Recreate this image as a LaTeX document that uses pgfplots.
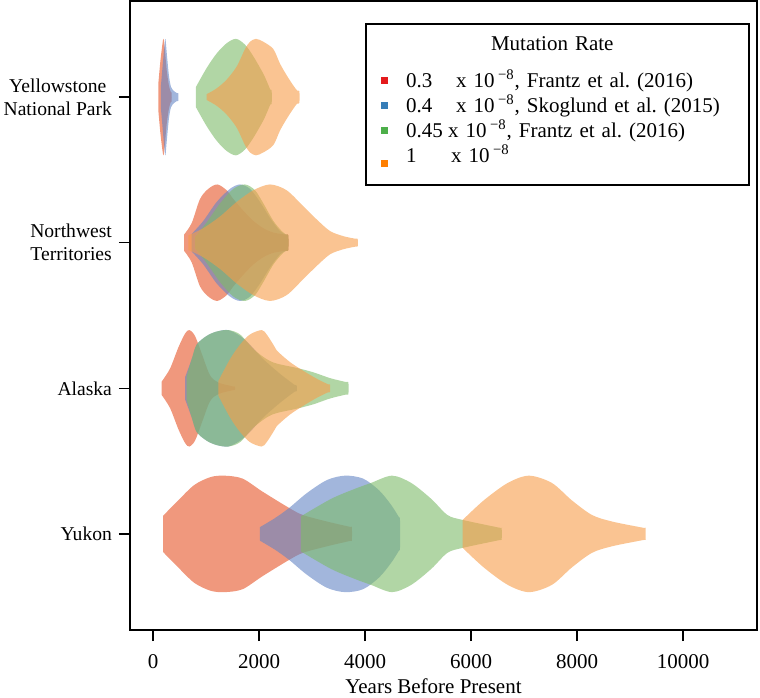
\documentclass[border=0pt]{standalone}
\usepackage{fontspec}
\setmainfont{Liberation Serif}
\usepackage{pgfplots}
\usepackage{pgfplotstable}
\pgfplotsset{compat=1.18}
\usetikzlibrary{calc}
\definecolor{vred}{RGB}{230,83,38}
\definecolor{vblue}{RGB}{100,133,197}
\definecolor{vgreen}{RGB}{125,187,105}
\definecolor{vorange}{RGB}{247,157,73}
\definecolor{lred}{HTML}{E41A1C}
\definecolor{lblue}{HTML}{377EB8}
\definecolor{lgreen}{HTML}{4DAF4A}
\definecolor{lorange}{HTML}{FF7F00}

% Yukon
\pgfplotstableread{
x w
189 0.124
475 0.23
779 0.336
1083 0.39
1348 0.40
1689 0.38
2068 0.29
2561 0.18
2827 0.13
3282 0.085
3710 0.049
3751 0.046
3751 -0.046
3710 -0.049
3282 -0.085
2827 -0.13
2561 -0.18
2068 -0.29
1689 -0.38
1348 -0.40
1083 -0.39
779 -0.336
475 -0.23
189 -0.124
}\yukonred
\pgfplotstableread{
x w
2015 0.046
2295 0.107
2561 0.176
2902 0.28
3282 0.37
3623 0.40
3963 0.38
4264 0.30
4491 0.20
4640 0.115
4660 0.096
4660 -0.096
4640 -0.115
4491 -0.20
4264 -0.30
3963 -0.38
3623 -0.40
3282 -0.37
2902 -0.28
2561 -0.176
2295 -0.107
2015 -0.046
}\yukonblue
\pgfplotstableread{
x w
2789 0.12
3357 0.24
3812 0.31
4113 0.35
4509 0.40
4872 0.35
5251 0.24
5555 0.13
5843 0.096
6530 0.043
6577 0.040
6577 -0.040
6530 -0.043
5843 -0.096
5555 -0.13
5251 -0.24
4872 -0.35
4509 -0.40
4113 -0.35
3812 -0.31
3357 -0.24
2789 -0.12
}\yukongreen
\pgfplotstableread{
x w
5843 0.096
6239 0.23
6693 0.35
7094 0.40
7526 0.35
7904 0.23
8283 0.13
8662 0.085
9250 0.042
9292 0.040
9292 -0.040
9250 -0.042
8662 -0.085
8283 -0.13
7904 -0.23
7526 -0.35
7094 -0.40
6693 -0.35
6239 -0.23
5843 -0.096
}\yukonorange

% Alaska
\pgfplotstableread{
x w
164 0.046
321 0.135
478 0.28
604 0.375
685 0.40
792 0.36
918 0.24
1075 0.09
1233 0.04
1500 0.014
1547 0.012
1547 -0.012
1500 -0.014
1233 -0.04
1075 -0.09
918 -0.24
792 -0.36
685 -0.40
604 -0.375
478 -0.28
321 -0.135
164 -0.046
}\alaskared
\pgfplotstableread{
x w
604 0.075
730 0.20
824 0.30
1013 0.36
1202 0.39
1421 0.40
1642 0.36
1830 0.30
2082 0.20
2396 0.10
2670 0.024
2711 0.020
2711 -0.020
2670 -0.024
2396 -0.10
2082 -0.20
1830 -0.30
1642 -0.36
1421 -0.40
1202 -0.39
1013 -0.36
824 -0.30
730 -0.20
604 -0.075
}\alaskablue
\pgfplotstableread{
x w
635 0.08
730 0.20
824 0.30
1013 0.36
1202 0.39
1421 0.40
1642 0.37
1893 0.27
2145 0.20
2334 0.17
2711 0.14
3025 0.11
3340 0.07
3640 0.043
3686 0.040
3686 -0.040
3640 -0.043
3340 -0.07
3025 -0.11
2711 -0.14
2334 -0.17
2145 -0.20
1893 -0.27
1642 -0.37
1421 -0.40
1202 -0.39
1013 -0.36
824 -0.30
730 -0.20
635 -0.08
}\alaskagreen
\pgfplotstableread{
x w
1233 0.05
1453 0.20
1642 0.30
1830 0.37
2050 0.40
2145 0.37
2270 0.30
2334 0.26
2585 0.18
2836 0.12
3088 0.066
3300 0.028
3340 0.025
3340 -0.025
3300 -0.028
3088 -0.066
2836 -0.12
2585 -0.18
2334 -0.26
2270 -0.30
2145 -0.37
2050 -0.40
1830 -0.37
1642 -0.30
1453 -0.20
1233 -0.05
}\alaskaorange

% Northwest Territories
\pgfplotstableread{
x w
585 0.055
730 0.135
887 0.30
1044 0.37
1214 0.40
1390 0.36
1516 0.30
1705 0.22
1893 0.15
2082 0.10
2270 0.07
2510 0.055
2553 0.050
2553 -0.050
2510 -0.055
2270 -0.07
2082 -0.10
1893 -0.15
1705 -0.22
1516 -0.30
1390 -0.36
1214 -0.40
1044 -0.37
887 -0.30
730 -0.135
585 -0.055
}\nwtred
\pgfplotstableread{
x w
730 0.06
950 0.15
1202 0.28
1453 0.37
1642 0.40
1830 0.37
2019 0.28
2208 0.17
2396 0.08
2510 0.056
2553 0.050
2553 -0.050
2510 -0.056
2396 -0.08
2208 -0.17
2019 -0.28
1830 -0.37
1642 -0.40
1453 -0.37
1202 -0.28
950 -0.15
730 -0.06
}\nwtblue
\pgfplotstableread{
x w
795 0.04
1013 0.14
1264 0.27
1516 0.37
1736 0.40
1925 0.36
2082 0.27
2270 0.15
2428 0.08
2510 0.056
2553 0.050
2553 -0.050
2510 -0.056
2428 -0.08
2270 -0.15
2082 -0.27
1925 -0.36
1736 -0.40
1516 -0.37
1264 -0.27
1013 -0.14
795 -0.04
}\nwtgreen
\pgfplotstableread{
x w
667 0.05
950 0.10
1264 0.18
1579 0.28
1893 0.36
2208 0.40
2522 0.36
2836 0.25
3088 0.16
3340 0.08
3591 0.045
3820 0.027
3862 0.025
3862 -0.025
3820 -0.027
3591 -0.045
3340 -0.08
3088 -0.16
2836 -0.25
2522 -0.36
2208 -0.40
1893 -0.36
1579 -0.28
1264 -0.18
950 -0.10
667 -0.05
}\nwtorange

% Yellowstone National Park
\pgfplotstableread{
x w
100 0.09
140 0.25
180 0.37
200 0.40
230 0.30
260 0.18
300 0.08
335 0.035
352 0.030
352 -0.030
335 -0.035
300 -0.08
260 -0.18
230 -0.30
200 -0.40
180 -0.37
140 -0.25
100 -0.09
}\ynpred
\pgfplotstableread{
x w
150 0.08
190 0.25
220 0.37
235 0.40
260 0.30
300 0.15
340 0.07
400 0.04
455 0.027
478 0.025
478 -0.025
455 -0.027
400 -0.04
340 -0.07
300 -0.15
260 -0.30
235 -0.40
220 -0.37
190 -0.25
150 -0.08
}\ynpblue
\pgfplotstableread{
x w
811 0.07
1013 0.20
1202 0.30
1390 0.37
1566 0.40
1736 0.36
1893 0.28
2082 0.16
2180 0.08
2215 0.05
2239 0.045
2239 -0.045
2215 -0.05
2180 -0.08
2082 -0.16
1893 -0.28
1736 -0.36
1566 -0.40
1390 -0.37
1202 -0.30
1013 -0.20
811 -0.07
}\ynpgreen
\pgfplotstableread{
x w
1013 0.02
1202 0.06
1390 0.12
1579 0.21
1736 0.33
1830 0.38
1943 0.40
2082 0.38
2270 0.33
2396 0.23
2522 0.15
2647 0.08
2720 0.045
2761 0.040
2761 -0.040
2720 -0.045
2647 -0.08
2522 -0.15
2396 -0.23
2270 -0.33
2082 -0.38
1943 -0.40
1830 -0.38
1736 -0.33
1579 -0.21
1390 -0.12
1202 -0.06
1013 -0.02
}\ynporange

\newcommand{\violin}[3]{\addplot[draw=none, fill=#2, fill opacity=0.6, smooth, tension=0.5, forget plot] table[x=x, y expr={#1+\thisrow{w}}] {#3};}
\newcommand{\legsq}[1]{\addlegendimage{legend image code/.code={\path[draw=none,fill=none] (-7.5pt,0pt) -- (12.5pt,0pt); \fill[#1, draw=none] (0pt,-1pt) rectangle (3.6pt,2.6pt);}}}

\begin{document}
\begin{tikzpicture}
\begin{axis}[
  name=ax, scale only axis, width=313.5pt, height=314.5pt,
  xmin=-434, xmax=11396, ymin=-0.66, ymax=3.66,
  xtick={0,2000,4000,6000,8000,10000},
  ytick={0,1,2,3},
  yticklabels={Yukon,Alaska,{Northwest\\Territories},{Yellowstone\\National Park}},
  scaled x ticks=false,
  /pgf/number format/set thousands separator={},
  /pgf/number format/assume math mode=true,
  font=\fontsize{10.5}{12}\selectfont,
  tick align=outside, major tick length=5.5pt,
  xtick pos=lower, ytick pos=left,
  tick style={black, line width=0.8pt},
  axis line style={line width=0.9pt},
  yticklabel style={align=center, font=\fontsize{9.8}{11.5}\selectfont, xshift=0pt},
  xticklabel style={yshift=-3pt},
  xlabel={Years Before Present},
  xlabel style={at={(axis description cs:0.484,0)}, anchor=base, yshift=-31.5pt},
  legend style={at={(axis description cs:0.375,0.965)}, anchor=north west,
    draw=black, line width=0.9pt, inner xsep=0pt, inner ysep=0pt,
    font=\fontsize{10.5}{12}\selectfont, row sep=0pt, column sep=0pt,
    nodes={inner xsep=0pt, inner ysep=0pt, text height=9pt, text depth=3.5pt, text width=171.5pt, align=left}},
  legend cell align=left,
]
\addlegendimage{empty legend}
\addlegendentry[text height=13.5pt, text depth=9.5pt]{\hspace*{42.5pt}Mutation Rate}
\legsq{lred}
\addlegendentry{\makebox[25pt][l]{0.3}x 10\,\textsuperscript{−8}, Frantz et al.\ (2016)}
\legsq{lblue}
\addlegendentry{\makebox[25pt][l]{0.4}x 10\,\textsuperscript{−8}, Skoglund et al.\ (2015)}
\legsq{lgreen}
\addlegendentry{\makebox[21pt][l]{0.45}x 10\,\textsuperscript{−8}, Frantz et al.\ (2016)}
\legsq{lorange}
\addlegendentry[text depth=11pt]{\makebox[22.5pt][l]{1}x 10\,\textsuperscript{−8}}

\violin{0}{vred}{\yukonred}
\violin{0}{vblue}{\yukonblue}
\violin{0}{vgreen}{\yukongreen}
\violin{0}{vorange}{\yukonorange}
\violin{1}{vred}{\alaskared}
\violin{1}{vblue}{\alaskablue}
\violin{1}{vgreen}{\alaskagreen}
\violin{1}{vorange}{\alaskaorange}
\violin{2}{vred}{\nwtred}
\violin{2}{vblue}{\nwtblue}
\violin{2}{vgreen}{\nwtgreen}
\violin{2}{vorange}{\nwtorange}
\violin{3}{vred}{\ynpred}
\violin{3}{vblue}{\ynpblue}
\violin{3}{vgreen}{\ynpgreen}
\violin{3}{vorange}{\ynporange}
\end{axis}
\pgfresetboundingbox
\path ($(ax.south west)+(-65pt,-33.5pt)$) rectangle ($(ax.north east)+(1.5pt,0.5pt)$);
\end{tikzpicture}
\end{document}
